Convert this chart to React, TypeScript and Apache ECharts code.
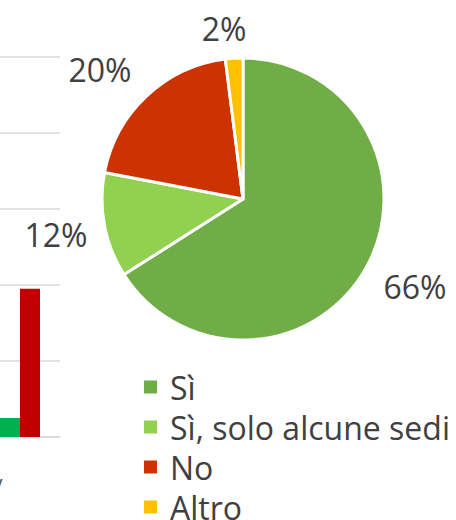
import React, { useEffect, useRef } from "react";
import * as echarts from "echarts";

// Pie data
const categories = ["Sì", "Sì, solo alcune sedi", "No", "Altro"];
const percents = [66, 12, 20, 2];
const pieColors = ["#70AD47", "#92D050", "#CC3300", "#FFC000"];

// Partially visible bar chart on the left (cropped in the reference)
const barCategories = [""];
const barGreenValues = [2.5];
const barRedValues = [19.5];
const barHiddenValues = ["-"];
const barYTicks = [0, 10, 20, 30, 40, 50];

// label placement (label line lengths, hidden lines)
const labelLineLen1 = [41.6, 51, 37.3, 30.3];
const labelLineLen2 = [12, -1.6, 21, 8.2];

const FONT = "'Open Sans', sans-serif";
const TEXT = "#404040";

export default function App() {
  const ref = useRef<HTMLDivElement>(null);
  useEffect(() => {
    if (!ref.current) return;
    const chart = echarts.init(ref.current, null, { renderer: "svg" });
    chart.setOption({
      animation: false,
      backgroundColor: "#ffffff",
      textStyle: { fontFamily: FONT },
      grid: { left: 0, width: 60, top: 57, height: 380 },
      xAxis: {
        type: "category",
        data: barCategories,
        axisLine: { lineStyle: { color: "#D9D9D9", width: 1.5 } },
        axisTick: { show: false },
        axisLabel: { show: false },
      },
      yAxis: {
        type: "value",
        min: barYTicks[0],
        max: barYTicks[barYTicks.length - 1],
        interval: barYTicks[1] - barYTicks[0],
        axisLabel: { show: false },
        axisLine: { show: false },
        axisTick: { show: false },
        splitLine: { lineStyle: { color: "#D9D9D9", width: 1.5 } },
      },
      legend: {
        orient: "vertical",
        left: 142,
        top: 371,
        height: 200,
        padding: 0,
        itemGap: 8,
        itemWidth: 15,
        itemHeight: 15,
        icon: "rect",
        data: categories,
        textStyle: {
          fontFamily: FONT,
          fontSize: 32,
          lineHeight: 32,
          color: TEXT,
          padding: [0, 0, 0, 7],
        },
      },
      graphic: [
        {
          type: "text",
          left: -6,
          top: 474,
          style: { text: "/", font: `24px ${FONT}`, fill: "#595959" },
        },
      ],
      series: [
        {
          type: "bar",
          name: "bar-green",
          data: barGreenValues,
          barWidth: 20,
          barGap: "0%",
          itemStyle: { color: "#00B050" },
        },
        {
          type: "bar",
          name: "bar-red",
          data: barRedValues,
          barWidth: 20,
          barGap: "0%",
          itemStyle: { color: "#C00000" },
        },
        {
          type: "bar",
          name: "bar-hidden",
          data: barHiddenValues,
          barWidth: 20,
          barGap: "0%",
          itemStyle: { color: "transparent" },
        },
        {
          type: "pie",
          center: [243, 199],
          radius: 141,
          startAngle: 90,
          clockwise: true,
          avoidLabelOverlap: false,
          itemStyle: { borderColor: "#ffffff", borderWidth: 3 },
          label: {
            show: true,
            position: "outside",
            formatter: "{c}%",
            fontFamily: FONT,
            fontSize: 32,
            color: TEXT,
            distanceToLabelLine: 0,
          },
          labelLine: { show: false },
          labelLayout: { align: "center" },
          emphasis: { disabled: true },
          data: categories.map((name, i) => ({
            name,
            value: percents[i],
            itemStyle: { color: pieColors[i] },
            labelLine: { show: false, length: labelLineLen1[i], length2: labelLineLen2[i] },
          })),
        },
      ],
    });
    return () => chart.dispose();
  }, []);
  return (
    <div
      ref={ref}
      style={{ position: "fixed", left: 0, top: 0, width: 456, height: 520 }}
    />
  );
}
